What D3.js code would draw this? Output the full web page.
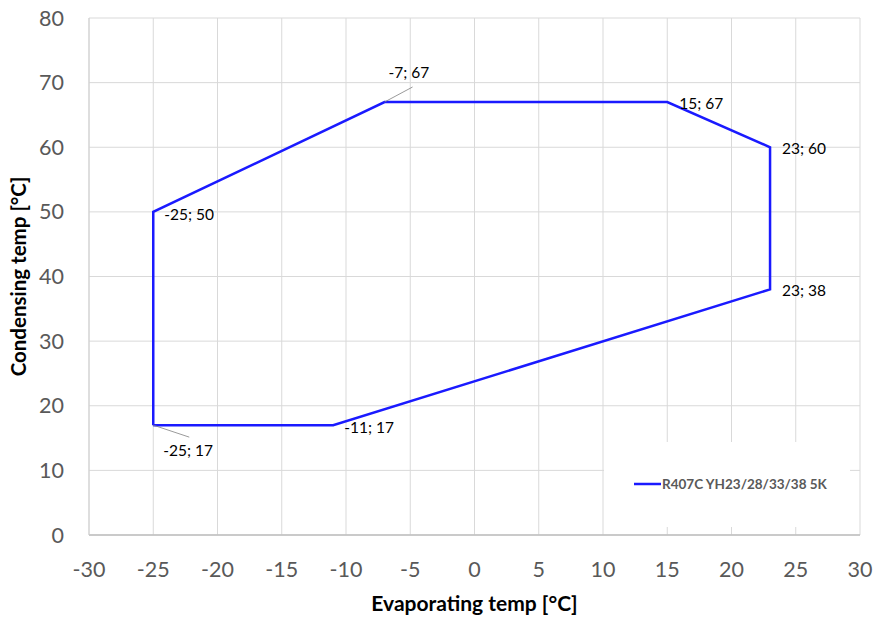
<!DOCTYPE html>
<html>
<head>
  <meta charset="utf-8">
  <title>Envelope chart</title>
  <script src="https://cdn.jsdelivr.net/npm/d3@7"></script>
  <style>
    body { margin: 0; background: #fff; }
    text { font-family: Lato, "Open Sans", sans-serif; }
  </style>
</head>
<body>
  <script>
    // Data for the envelope
    const evapTemp = [-25, -25, -7, 15, 23, 23, -11, -25];
    const condTemp = [17, 50, 67, 67, 60, 38, 17, 17];
    const pointLabels = ["-25; 17", "-25; 50", "-7; 67", "15; 67", "23; 60", "23; 38", "-11; 17"];
    const xTicks = [-30, -25, -20, -15, -10, -5, 0, 5, 10, 15, 20, 25, 30];
    const yTicks = [0, 10, 20, 30, 40, 50, 60, 70, 80];
    const seriesName = "R407C YH23/28/33/38 5K";

    const w = 874;
    const h = 617;
    const margin = { left: 89, right: 14, top: 18, bottom: 82 };

    const svg = d3.select("body")
      .append("svg")
      .attr("width", w)
      .attr("height", h);

    const x = d3.scaleLinear().domain([-30, 30]).range([margin.left, w - margin.right]);
    const y = d3.scaleLinear().domain([0, 80]).range([h - margin.bottom, margin.top]);

    // Gridlines
    svg.append("g")
      .selectAll("line")
      .data(xTicks)
      .enter()
      .append("line")
      .attr("x1", d => x(d)).attr("x2", d => x(d))
      .attr("y1", y(0)).attr("y2", y(80))
      .attr("stroke", "#d9d9d9").attr("stroke-width", 1);

    svg.append("g")
      .selectAll("line")
      .data(yTicks)
      .enter()
      .append("line")
      .attr("x1", x(-30)).attr("x2", x(30))
      .attr("y1", d => y(d)).attr("y2", d => y(d))
      .attr("stroke", "#d9d9d9").attr("stroke-width", 1);

    // Axis lines
    svg.append("line")
      .attr("x1", x(-30)).attr("x2", x(30))
      .attr("y1", y(0)).attr("y2", y(0))
      .attr("stroke", "#bfbfbf").attr("stroke-width", 1.5);
    svg.append("line")
      .attr("x1", x(-30)).attr("x2", x(-30))
      .attr("y1", y(0)).attr("y2", y(80))
      .attr("stroke", "#d0d0d0").attr("stroke-width", 1);

    // Tick labels
    svg.append("g")
      .selectAll("text")
      .data(xTicks)
      .enter()
      .append("text")
      .attr("x", d => x(d))
      .attr("y", y(0) + 42)
      .attr("text-anchor", "middle")
      .attr("font-size", 21.5)
      .attr("fill", "#595959")
      .text(d => d);

    svg.append("g")
      .selectAll("text")
      .data(yTicks)
      .enter()
      .append("text")
      .attr("x", x(-30) - 25)
      .attr("y", d => y(d) + 7.5)
      .attr("text-anchor", "end")
      .attr("font-size", 21.5)
      .attr("fill", "#595959")
      .text(d => d);

    // Axis titles
    svg.append("text")
      .attr("x", (x(-30) + x(30)) / 2)
      .attr("y", 611)
      .attr("text-anchor", "middle")
      .attr("font-size", 21)
      .attr("font-weight", "bold")
      .attr("fill", "#000")
      .text("Evaporating temp [°C]");

    svg.append("text")
      .attr("transform", "translate(26," + ((y(0) + y(80)) / 2) + ") rotate(-90)")
      .attr("text-anchor", "middle")
      .attr("font-size", 20.5)
      .attr("font-weight", "bold")
      .attr("fill", "#000")
      .text("Condensing temp [°C]");

    // Legend box (covers gridlines)
    svg.append("rect")
      .attr("x", 604).attr("y", 442)
      .attr("width", 246).attr("height", 85)
      .attr("fill", "#fff");
    svg.append("line")
      .attr("x1", 634).attr("x2", 661)
      .attr("y1", 484).attr("y2", 484)
      .attr("stroke", "#1a1aff").attr("stroke-width", 2.5);
    svg.append("text")
      .attr("x", 662).attr("y", 489)
      .attr("font-size", 13.5)
      .attr("font-weight", "bold")
      .attr("fill", "#595959")
      .text(seriesName);

    // Envelope line
    const pts = evapTemp.map((d, i) => [d, condTemp[i]]);
    const line = d3.line().x(d => x(d[0])).y(d => y(d[1]));
    svg.append("path")
      .datum(pts)
      .attr("d", line)
      .attr("fill", "none")
      .attr("stroke", "#1a1aff")
      .attr("stroke-width", 2.5)
      .attr("stroke-linejoin", "miter");

    // Leader lines for two labels
    svg.append("line")
      .attr("x1", x(-7)).attr("y1", y(67))
      .attr("x2", x(-7) + 28).attr("y2", y(67) - 15)
      .attr("stroke", "#808080").attr("stroke-width", 0.8);
    svg.append("line")
      .attr("x1", x(-25)).attr("y1", y(17))
      .attr("x2", x(-25) + 36).attr("y2", y(17) + 12)
      .attr("stroke", "#808080").attr("stroke-width", 0.8);

    // Data labels: offsets relative to each point
    const labelOffsets = [[10, 31], [11, 8], [4, -24], [12, 7], [12, 7], [12, 7], [11, 8]];
    svg.append("g")
      .selectAll("text")
      .data(pointLabels)
      .enter()
      .append("text")
      .attr("x", (d, i) => x(evapTemp[i]) + labelOffsets[i][0])
      .attr("y", (d, i) => y(condTemp[i]) + labelOffsets[i][1])
      .attr("font-size", 15.5)
      .attr("fill", "#000")
      .text(d => d);
  </script>
</body>
</html>
